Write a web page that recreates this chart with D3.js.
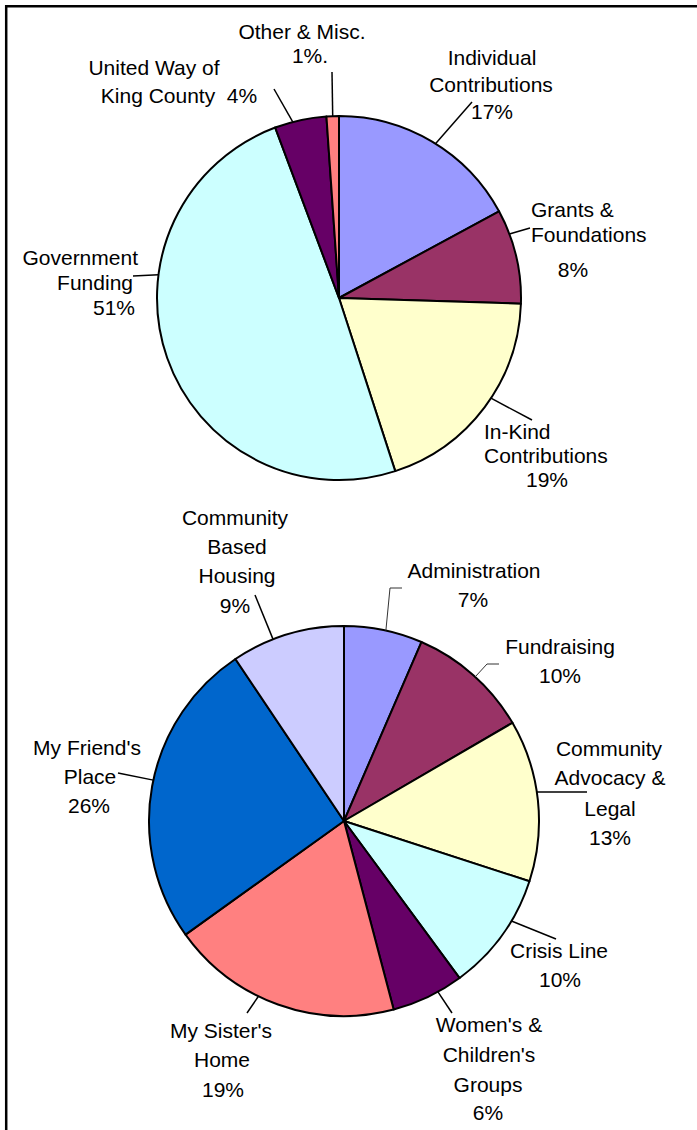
<!DOCTYPE html>
<meta charset="utf-8">
<script src="https://d3js.org/d3.v7.min.js"></script>
<style>
  body { margin: 0; background: #fff; }
  text { font-family: "Liberation Sans", Arial, sans-serif; font-size: 21px; fill: #000; white-space: pre; }
</style>
<div id="chart"></div>
<script>

// top pie: where the money comes from
var revCategories = ["Individual Contributions", "Grants & Foundations", "In-Kind Contributions",
                     "Government Funding", "United Way of King County", "Other & Misc."];
var revValues = [17.1, 8.4, 19.5, 49.3, 4.6, 1.1];
var revColors = ["#9999ff", "#993366", "#ffffcc", "#ccffff", "#660066", "#ff8080"];
var revLabels = [["Individual", "Contributions", "17%"],
                 ["Grants &", "Foundations", "8%"],
                 ["In-Kind", "Contributions", "19%"],
                 ["Government", "Funding", "51%"],
                 ["United Way of", "King County  4%"],
                 ["Other & Misc.", "1%."]];

// bottom pie: where the money goes
var expCategories = ["Administration", "Fundraising", "Community Advocacy & Legal", "Crisis Line",
                     "Women's & Children's Groups", "My Sister's Home", "My Friend's Place",
                     "Community Based Housing"];
var expValues = [6.5, 10.1, 13.4, 9.9, 6.0, 19.2, 25.5, 9.4];
var expColors = ["#9999ff", "#993366", "#ffffcc", "#ccffff", "#660066", "#ff8080", "#0066cc", "#ccccff"];
var expLabels = [["Administration", "7%"],
                 ["Fundraising", "10%"],
                 ["Community", "Advocacy &", "Legal", "13%"],
                 ["Crisis Line", "10%"],
                 ["Women's &", "Children's", "Groups", "6%"],
                 ["My Sister's", "Home", "19%"],
                 ["My Friend's", "Place", "26%"],
                 ["Community", "Based", "Housing", "9%"]];

// layout (pixel positions of each pie and its labels)
var revPie = {cx: 339, cy: 298, r: 182};
var expPie = {cx: 344, cy: 821, r: 195};

// lines: [x, baseline, anchor]; at: where the leader meets the rim (fraction of the slice)
var revLayout = [
  {lines: [[492, 65, "middle"], [491, 92, "middle"], [492, 119, "middle"]], at: 0.52, pts: [[472, 102]]},
  {lines: [[531, 217, "start"], [531, 242, "start"], [573, 277, "middle"]], at: 0.26, pts: [[530, 228]]},
  {lines: [[484, 439, "start"], [484, 463, "start"], [547, 487, "middle"]], at: 0.45, pts: [[532, 420]]},
  {lines: [[138, 265, "end"], [133, 290, "end"], [135, 315, "end"]], at: 0.65, pts: [[133, 276]]},
  {lines: [[154, 75, "middle"], [179, 103, "middle"]], at: 0.35, pts: [[274, 89]]},
  {lines: [[302, 39, "middle"], [310, 63, "middle"]], at: 0.5, pts: [[332, 72]]}
];
var expLayout = [
  {lines: [[474, 578], [473, 607]], at: 0.53, pts: [[390, 588], [402, 588]], thin: true},
  {lines: [[560, 654], [560, 683]], at: 0.52, pts: [[487, 664], [499, 664]], thin: true},
  {lines: [[609, 756], [610, 785], [610, 816], [610, 845]], at: 0.45, pts: [[587, 792]]},
  {lines: [[559, 958], [560, 987]], at: 0.36, pts: [[556, 939]]},
  {lines: [[489, 1032], [489, 1062], [488, 1092], [488, 1120]], at: 0.35, pts: [[452, 1013]]},
  {lines: [[221, 1038], [222, 1067], [223, 1097]], at: 0.59, pts: [[247, 1013]]},
  {lines: [[87, 755], [90, 784], [89, 813]], at: 0.52, pts: [[118, 773]]},
  {lines: [[235, 525], [237, 554], [237, 583], [235, 613]], at: 0.37, pts: [[255, 595]]}
];

var width = 697, height = 1130;

var svg = d3.select("#chart")
  .append("svg")
    .attr("width", width)
    .attr("height", height);

// frame: top and left edges only
svg.append("path")
  .attr("d", "M6.2," + height + "V6.2H" + width)
  .attr("fill", "none")
  .attr("stroke", "#000")
  .attr("stroke-width", 2.5);

drawPie(revPie, revValues, revColors, revLabels, revLayout);
drawPie(expPie, expValues, expColors, expLabels, expLayout);

function drawPie(p, values, colors, labels, layout) {
  var arcs = d3.pie().sort(null).value(function(d) { return d; })(values);
  var arc = d3.arc().innerRadius(0).outerRadius(p.r);

  var g = svg.append("g")
    .attr("transform", "translate(" + p.cx + "," + p.cy + ")");

  g.selectAll("path.slice")
    .data(arcs)
    .enter()
    .append("path")
      .attr("class", "slice")
      .attr("d", arc)
      .attr("fill", function(d, i) { return colors[i]; })
      .attr("stroke", "#000")
      .attr("stroke-width", 2)
      .attr("stroke-linejoin", "round");

  // leader lines from the rim out to the labels
  var line = d3.line();
  arcs.forEach(function(d, i) {
    var L = layout[i];
    var a = d.startAngle + (d.endAngle - d.startAngle) * L.at;
    var start = [p.cx + p.r * Math.sin(a), p.cy - p.r * Math.cos(a)];
    svg.append("path")
      .attr("d", line([start].concat(L.pts)))
      .attr("fill", "none")
      .attr("stroke", L.thin ? "#333" : "#000")
      .attr("stroke-width", L.thin ? 1 : 1.5);

    labels[i].forEach(function(t, j) {
      var pos = L.lines[j];
      svg.append("text")
        .attr("x", pos[0])
        .attr("y", pos[1])
        .attr("text-anchor", pos[2] || "middle")
        .text(t);
    });
  });
}

</script>
